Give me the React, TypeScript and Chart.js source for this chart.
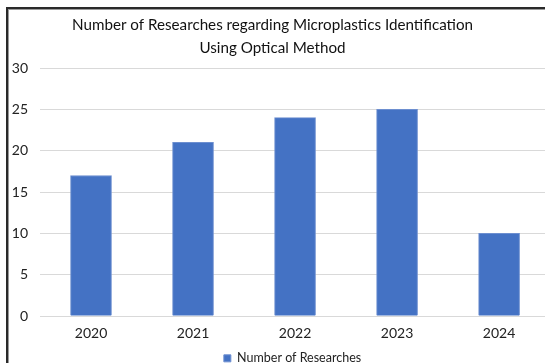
import React, { useEffect, useRef } from 'react';
import { Chart, registerables } from 'chart.js';

Chart.register(...registerables);

const titleLines = ['Number of Researches regarding Microplastics Identification', 'Using Optical Method'];
const years = ['2020', '2021', '2022', '2023', '2024'];
const researchCounts = [17, 21, 24, 25, 10];
const seriesLabel = 'Number of Researches';
const yTicks = [0, 5, 10, 15, 20, 25, 30];

export default function App() {
  const ref = useRef<HTMLCanvasElement>(null);
  useEffect(() => {
    if (!ref.current) return;
    const font = 'Lato';
    const chart = new Chart(ref.current, {
      type: 'bar',
      data: {
        datasets: [
          {
            label: seriesLabel,
            data: researchCounts.map((v, i) => ({ x: i, y: v })),
            backgroundColor: '#4472C4',
            borderColor: '#6d8fd0',
            borderWidth: 1,
            barThickness: 41,
          },
        ],
      },
      options: {
        animation: false,
        responsive: false,
        layout: { padding: { left: 0, right: 0, top: 0, bottom: -11.6 } },
        scales: {
          x: {
            type: 'linear',
            offset: false,
            min: -0.5,
            max: 4.45,
            grid: { display: false, offset: false, drawTicks: false },
            border: { display: false },
            afterBuildTicks: (s: any) => {
              s.ticks = years.map((_, i) => ({ value: i }));
            },
            afterFit: (s: any) => {
              s.height = 36;
            },
            ticks: {
              callback: (v: any) => years[v] ?? '',
              padding: 9,
              color: '#222',
              font: { family: font, size: 14 },
              maxRotation: 0,
              autoSkip: false,
            },
          },
          y: {
            min: 0,
            max: 30,
            afterBuildTicks: (s: any) => {
              s.ticks = yTicks.map((v) => ({ value: v }));
            },
            afterFit: (s: any) => {
              s.width = 40;
            },
            grid: { color: '#d9d9d9', drawTicks: false, lineWidth: 1 },
            border: { display: false },
            ticks: {
              padding: 12,
              color: '#222',
              font: { family: font, size: 14 },
            },
          },
        },
        plugins: {
          title: {
            display: true,
            text: titleLines,
            color: '#111',
            font: { family: font, size: 15.2, weight: 'normal', lineHeight: 1.5 },
            padding: { top: 13.6, bottom: 8.8 },
          },
          legend: {
            display: true,
            position: 'bottom',
            fullSize: false,
            labels: {
              boxWidth: 7,
              boxHeight: 7,
              padding: 0,
              color: '#222',
              font: { family: font, size: 12.5 },
            },
          },
          tooltip: { enabled: false },
        },
      },
    } as any);
    return () => chart.destroy();
  }, []);

  return (
    <div style={{ position: 'absolute', left: 0, top: 0, width: 545, height: 363, overflow: 'hidden', background: '#fff' }}>
      <div
        style={{
          position: 'absolute',
          left: 6,
          top: 7,
          width: 560,
          height: 380,
          borderLeft: '2px solid #2a2a2a',
          borderTop: '2px solid #2a2a2a',
          boxShadow: 'inset 1px 1px 0 #9a9a9a',
        }}
      />
      <canvas ref={ref} width={545} height={363} style={{ position: 'absolute', left: 0, top: 0 }} />
    </div>
  );
}
